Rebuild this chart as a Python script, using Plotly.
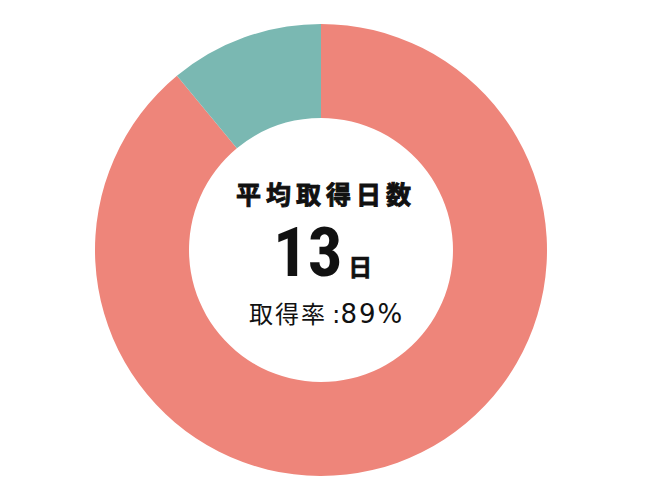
import plotly.graph_objects as go

labels = ["取得", "未取得"]
values = [89, 11]
colors = ["#EE857A", "#7AB8B2"]
title_text = "平均取得日数"
days_text = "13"
unit_text = "日"
rate_label = "取得率"
rate_value = "89%"

W, H = 650, 500
cx, cy, R = 313, 242, 226

fig = go.Figure(go.Pie(
    labels=labels, values=values, hole=0.584, sort=False,
    direction="clockwise", rotation=0,
    marker=dict(colors=colors, line=dict(width=0)),
    textinfo="none", hoverinfo="skip", showlegend=False,
    domain=dict(x=[(cx - R) / W, (cx + R) / W], y=[(H - cy - R) / H, (H - cy + R) / H]),
))

jp = "Noto Sans CJK JP"
fig.add_annotation(x=(314.5 + 3) / W, y=1 - 184.5 / H, xref="paper", yref="paper", showarrow=False,
                   text=f"<span style='letter-spacing:5px;stroke:#111;stroke-width:0.9px'><b>{title_text}</b></span>",
                   font=dict(family=jp, size=25, color="#111"),
                   xanchor="center", yanchor="middle")
fig.add_annotation(x=314.5 / W, y=1 - 273 / H, xref="paper", yref="paper", showarrow=False,
                   text=(f"<b>{days_text}</b>"
                         f"<span style='font-size:24px;font-family:\"{jp}\";stroke:#111;stroke-width:0.6px'><b> {unit_text}</b></span>"),
                   font=dict(family="Liberation Sans Narrow, Roboto Condensed, Liberation Sans", size=69, color="#111"),
                   xanchor="center", yanchor="bottom", yshift=-14)
fig.add_annotation(x=(317 + 1) / W, y=1 - 304 / H, xref="paper", yref="paper", showarrow=False,
                   text=(f"<span style='font-family:\"{jp}\";font-size:24px;letter-spacing:2px'>{rate_label}</span>"
                         f"<span>\u2009:</span>"
                         f"<span style='font-size:26px;letter-spacing:2px'>{rate_value}</span>"),
                   font=dict(family="DejaVu Sans", size=25, color="#111"),
                   xanchor="center", yanchor="middle")

fig.update_layout(width=W, height=H, margin=dict(l=0, r=0, t=0, b=0),
                  paper_bgcolor="white", plot_bgcolor="white")
fig.write_html("out.html")
